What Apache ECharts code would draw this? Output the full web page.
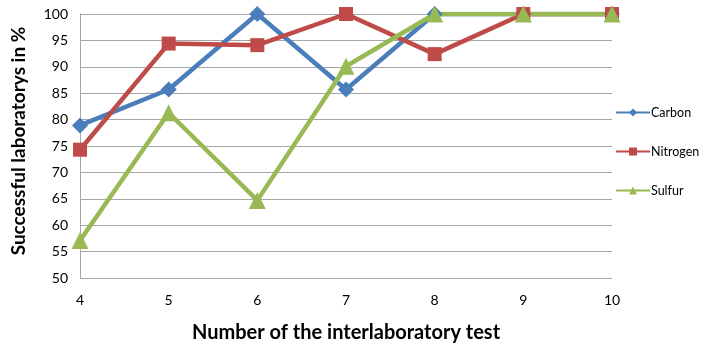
<!DOCTYPE html>
<html><head><meta charset="utf-8">
<script src="https://cdn.jsdelivr.net/npm/echarts@6/dist/echarts.min.js"></script>
<style>html,body{margin:0;padding:0;background:#fff}#c{width:705px;height:344px}</style>
</head><body><div id="c"></div>
<script>
const categories = ['4','5','6','7','8','9','10'];
const carbon   = [78.9, 85.7, 100, 85.7, 100, 100, 100];
const nitrogen = [74.3, 94.4, 94.1, 100, 92.4, 100, 100];
const sulfur   = [57.1, 81.3, 64.7, 90.1, 100, 100, 100];
const yTicks = { min: 50, max: 100, interval: 5 };

const font = 'Lato, "Open Sans", sans-serif';
function mk(name, data, color, symbol, size) {
  return {
    name, type: 'line', data, symbol, symbolSize: size,
    lineStyle: { color, width: 4.5 }, itemStyle: { color },
    emphasis: { disabled: true }
  };
}
const chart = echarts.init(document.getElementById('c'));
chart.setOption({
  animation: false,
  grid: { left: 80, right: 93, top: 14, bottom: 66, containLabel: false, outerBoundsMode: 'none' },
  legend: {
    orient: 'vertical', left: 610, top: 101, itemGap: 26,
    itemWidth: 34, itemHeight: 10,
    textStyle: { fontFamily: font, fontSize: 12.5, color: '#000', padding: [0,0,0,-4] },
    data: ['Carbon', 'Nitrogen', 'Sulfur']
  },
  xAxis: {
    type: 'category', data: categories, boundaryGap: false,
    name: 'Number of the interlaboratory test', nameLocation: 'middle', nameGap: 45,
    nameTextStyle: { fontFamily: font, fontSize: 20, fontWeight: 'bold', color: '#000' },
    axisLine: { show: false }, axisTick: { show: false },
    axisLabel: { fontFamily: font, fontSize: 14, color: '#000', margin: 15 },
    splitLine: { show: false }
  },
  yAxis: {
    type: 'value', min: yTicks.min, max: yTicks.max, interval: yTicks.interval,
    name: 'Successful laboratorys in %', nameLocation: 'middle', nameGap: 52,
    nameTextStyle: { fontFamily: font, fontSize: 19, fontWeight: 'bold', color: '#000', padding: [0, 0, 0, 10] },
    axisLine: { show: true, lineStyle: { color: '#A6A6A6', width: 1 } },
    axisTick: { show: false },
    axisLabel: { fontFamily: font, fontSize: 14, color: '#000', margin: 12 },
    splitLine: { lineStyle: { color: '#A6A6A6', width: 1 } }
  },
  series: [
    mk('Carbon', carbon, '#4A7EBB', 'diamond', 16),
    mk('Nitrogen', nitrogen, '#BE4B48', 'rect', 14),
    mk('Sulfur', sulfur, '#98B954', 'triangle', 17)
  ]
});
</script></body></html>
